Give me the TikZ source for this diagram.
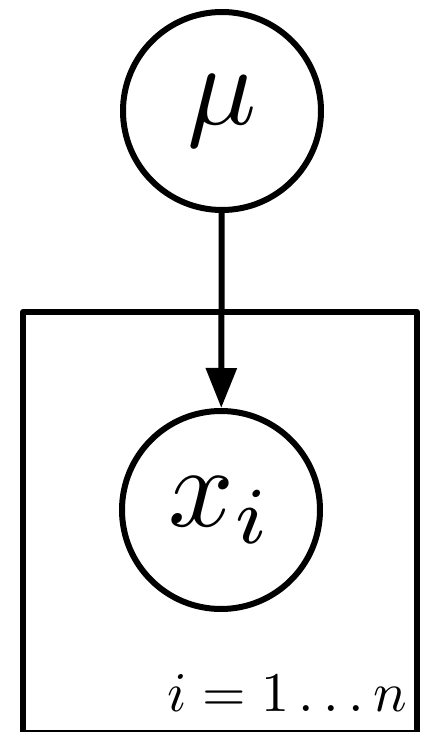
\documentclass[tikz,border=0pt]{standalone}
\usepackage{graphicx}
\usetikzlibrary{arrows.meta}
\begin{document}
\begin{tikzpicture}[x=1pt,y=1pt,
  var/.style={circle,draw,line width=6pt,minimum size=198pt,inner sep=0pt},
  plate/.style={draw,line width=6pt,line join=round},
  edge/.style={line width=6pt,-{Triangle[length=40pt,width=30pt]}}]
\useasboundingbox (0,0) rectangle (425,732);
\node[var] (mu) at (222,621) {\scalebox{11.5}{$\mu$}};
\node[var] (x) at (221,222) {\scalebox{11.5}{$x_i$}};
\draw[plate] (23,-1) rectangle (417,420);
\node[anchor=base east,inner sep=0pt] (lbl) at (407,20) {\scalebox{5.6}{$i=1\ldots n$}};
\draw[edge] (mu) -- (x);
\end{tikzpicture}
\end{document}
